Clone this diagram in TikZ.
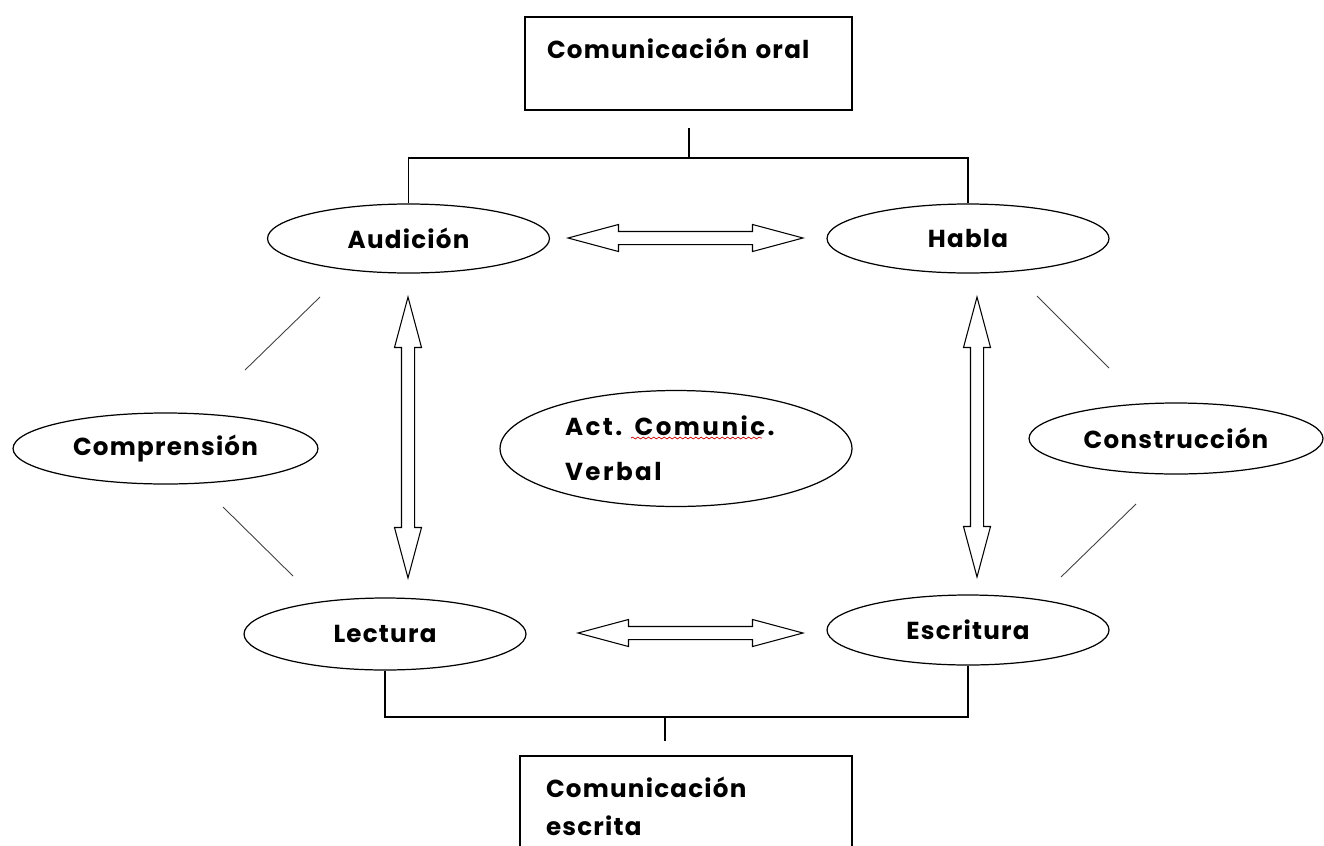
\documentclass[tikz,border=0pt]{standalone}
\usepackage{fontspec}
\setmainfont{Poppins}[LetterSpace=5]
\usetikzlibrary{shapes.geometric,shapes.arrows,decorations.pathmorphing}

\tikzset{
  elipse/.style={draw, ellipse, inner sep=0pt, line width=0.7pt,
    minimum width=5.64cm, minimum height=1.38cm,
    font=\bfseries\fontsize{14}{17}\selectfont},
  caja/.style={draw, rectangle, line width=0.7pt, inner xsep=0.44cm,
    align=left, font=\bfseries\fontsize{14}{17}\selectfont},
  dflecha/.style={draw, double arrow, line width=0.6pt, inner xsep=0pt, inner ysep=0.12cm,
    minimum width=0.52cm, double arrow head extend=0.14cm,
    double arrow tip angle=30, minimum height=#1},
  dflecha/.default=4.7cm,
  linea/.style={line width=0.7pt},
  raya/.style={line width=0.5pt, black!75}
}

\begin{document}
\begin{tikzpicture}[x=0.02cm, y=-0.02cm]
\clip (0,0) rectangle (1324,845);
\fill[white] (0,0) rectangle (1324,845);

% cajas
\node[caja, text width=5.66cm, minimum height=1.86cm] (oral) at (688.5,63.5) {Comunicación oral\\ \mbox{}};
\node[caja, text width=5.6cm, inner xsep=0.52cm, minimum height=2cm,
  font=\bfseries\fontsize{14}{21.6}\selectfont] (escrita) at (686,806) {Comunicación\\escrita};

% elipses
\node[elipse] (aud) at (408.5,238.5) {Audición};
\node[elipse] (hab) at (968,238.5) {Habla};
\node[elipse, minimum height=1.44cm] (lec) at (385,634) {Lectura};
\node[elipse, minimum height=1.4cm] (esc) at (968,630) {Escritura};
\node[elipse, minimum width=6.1cm, minimum height=1.42cm] (comp) at (165.5,448.5) {Comprensión};
\node[elipse, minimum width=5.88cm, minimum height=1.42cm] (cons) at (1176,438.5) {Construcción};
\node[elipse, minimum width=7.04cm, minimum height=2.32cm, align=left, text width=4.44cm,
  font=\bfseries\fontsize{14}{25.5}\selectfont\addfontfeature{LetterSpace=10}] (act) at (676,448.5) {Act. Comunic.\\Verbal};
\draw[red!80!black, line width=0.4pt, decorate, decoration={snake, amplitude=0.5pt, segment length=3pt}] (631,438) -- (762,438);

% llaves
\coordinate (jo) at (689,158);
\draw[linea] (aud.north) |- (jo) -| (hab.north);
\draw[linea] (jo) -- ++(0,-30);
\coordinate (je) at (665,717);
\draw[linea] (lec.south) |- (je) -| (esc.south);
\draw[linea] (je) -- ++(0,24);

% flechas dobles
\node[dflecha=4.7cm] (f1) at (685.5,238) {};
\node[dflecha=4.5cm] (f2) at (690.5,633) {};
\node[dflecha=5.62cm, rotate=90] (f3) at (408,437.5) {};
\node[dflecha=5.6cm, rotate=90] (f4) at (977,437) {};

% rayas
\draw[raya] (320,297) -- (245,370);
\draw[raya] (223,507) -- (293,576);
\draw[raya] (1037,296) -- (1109,368);
\draw[raya] (1136,504) -- (1061,577);
\end{tikzpicture}
\end{document}
